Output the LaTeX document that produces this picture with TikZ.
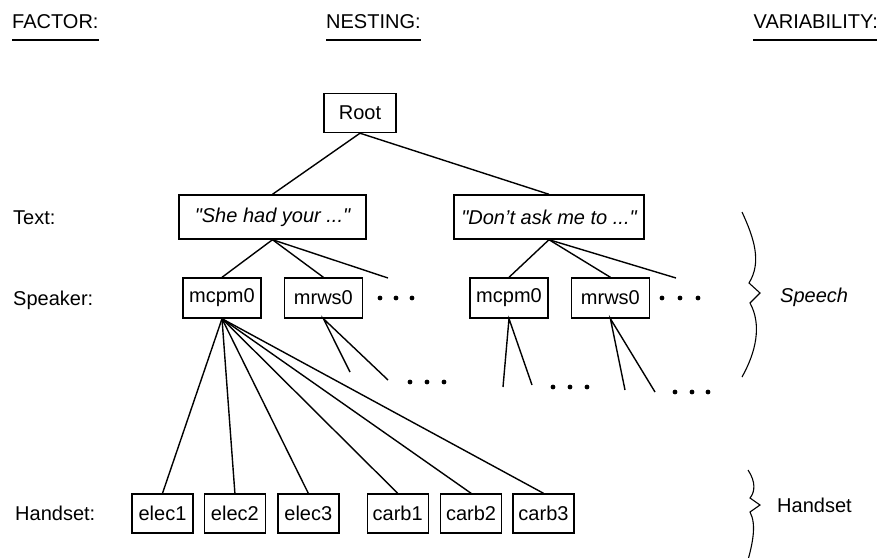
\documentclass[tikz,border=0pt]{standalone}
\usepackage{fontspec}
\setmainfont{Liberation Sans}
\usetikzlibrary{positioning}
\tikzset{
  treebox/.style={draw, line width=1.4pt, inner sep=0pt},
  quotebox/.style={treebox, minimum height=44pt, font=\fontsize{20}{24}\selectfont\itshape},
  spkbox/.style={treebox, minimum width=78pt, minimum height=40pt},
  setbox/.style={treebox, minimum width=61pt, minimum height=39pt},
  rowlabel/.style={anchor=base west, inner sep=0pt},
  branch/.style={line width=1.4pt},
  underbar/.style={line width=1.5pt}
}

\begin{document}
\begin{tikzpicture}[x=1pt, y=-1pt, font=\fontsize{20}{24}\selectfont]
    \useasboundingbox (0,0) rectangle (877,557);

    \node[rowlabel] (hfactor) at (12,28) {FACTOR:};
    \node[rowlabel] (hnesting) at (326,28) {NESTING:};
    \node[rowlabel, anchor=base east] (hvariab) at (878,28) {VARIABILITY:};
    \foreach \h in {hfactor, hnesting, hvariab}
      \draw[underbar] ([yshift=-12pt]\h.base west) -- ([yshift=-12pt]\h.base east);

    \node[rowlabel] (ltext) at (13,224) {Text:};
    \node[rowlabel] (lspeaker) at (13,305) {Speaker:};
    \node[rowlabel] (lhandset) at (15,520) {Handset:};

    \node[treebox, minimum width=72pt, minimum height=39pt] (root) at (360,113) {Root};

    \node[quotebox, minimum width=187pt] (she) at (272.5,217) {\textquotedbl She had your ...\textquotedbl};
    \node[quotebox, minimum width=190pt] (dont) at (549,217) {\textquotedbl Don't ask me to ...\textquotedbl};

    \node[spkbox] (mcpmA) at (222,298) {mcpm0};
    \node[spkbox, right=22pt of mcpmA] (mrwsA) {mrws0};
    \node[spkbox] (mcpmB) at (509,298) {mcpm0};
    \node[spkbox, right=22pt of mcpmB] (mrwsB) {mrws0};

    \node[setbox] (elec1) at (162.5,513.5) {elec1};
    \node[setbox, right=10pt of elec1] (elec2) {elec2};
    \node[setbox, right=11pt of elec2] (elec3) {elec3};
    \node[setbox, right=27pt of elec3] (carb1) {carb1};
    \node[setbox, right=11pt of carb1] (carb2) {carb2};
    \node[setbox, right=10pt of carb2] (carb3) {carb3};

    \coordinate (endA) at (388,278);
    \coordinate (endB) at (676,278);
    \coordinate (legA1) at (350,372);
    \coordinate (legA2) at (388,380);
    \coordinate (legB1) at (503,387);
    \coordinate (legB2) at (532,385);
    \coordinate (legC1) at (625,390);
    \coordinate (legC2) at (655,392);

    \draw[branch] (root.south) -- (she.north);
    \draw[branch] (root.south) -- (dont.north);
    \foreach \t in {mcpmA.north, mrwsA.north, endA}
      \draw[branch] (she.south) -- (\t);
    \foreach \t in {mcpmB.north, mrwsB.north, endB}
      \draw[branch] (dont.south) -- (\t);
    \foreach \t in {elec1, elec2, elec3, carb1, carb2, carb3}
      \draw[branch] (mcpmA.south) -- (\t.north);
    \draw[branch] (legA1) -- (mrwsA.south) -- (legA2);
    \draw[branch] (legB1) -- (mcpmB.south) -- (legB2);
    \draw[branch] (legC1) -- (mrwsB.south) -- (legC2);

    \foreach \x in {380,396,412} \fill (\x,298) circle (2.4pt);
    \foreach \x in {662,680,698} \fill (\x,298) circle (2.4pt);
    \foreach \x in {410,427,444} \fill (\x,382) circle (2.4pt);
    \foreach \x in {553,570,587} \fill (\x,387) circle (2.4pt);
    \foreach \x in {675,692,708} \fill (\x,392) circle (2.4pt);

    \draw[line width=1.1pt] (742,212) .. controls (754,238) and (762,262) .. (749,283)
      -- (760,293) -- (750,303) .. controls (762,325) and (756,352) .. (742,377);
    \draw[line width=1.1pt] (748,470) .. controls (756,482) and (755,492) .. (750,498)
      -- (760,505) -- (750,512) .. controls (757,525) and (752,545) .. (748,560);

    \node[rowlabel, font=\fontsize{20}{24}\selectfont\itshape] (lspeech) at (780,302) {Speech};
    \node[rowlabel] (lhset) at (777,512) {Handset};
\end{tikzpicture}
\end{document}
